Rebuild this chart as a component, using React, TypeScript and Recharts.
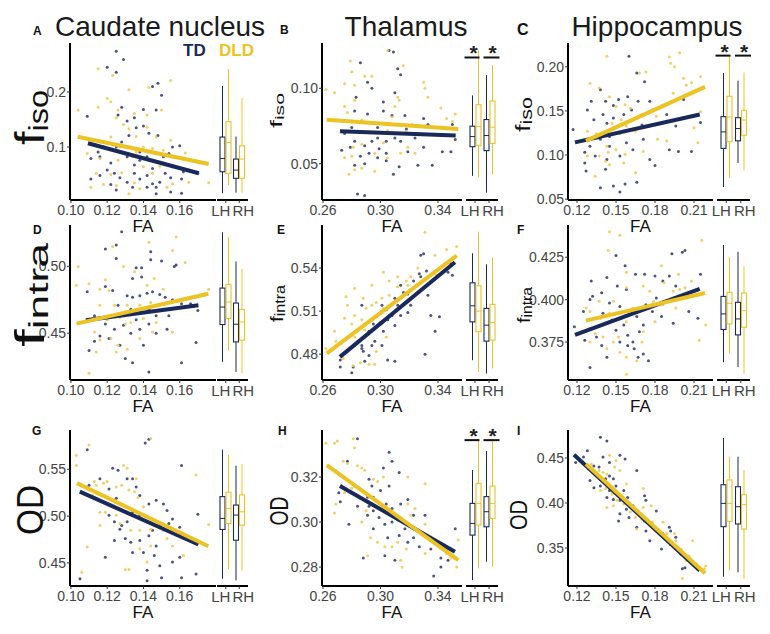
import React from 'react';
import { ScatterChart, Scatter, BarChart, Bar, XAxis, YAxis } from 'recharts';

type Pt = [number, number];

// ---- x ticks (FA) per region
const caudFaTicks = [0.1, 0.12, 0.14, 0.16];
const thalFaTicks = [0.26, 0.3, 0.34];
const hippFaTicks = [0.12, 0.15, 0.18, 0.21];
const sides = ['LH', 'RH'];

// ---- y ticks per panel
const caudIsoTicks = [0.1, 0.2];
const thalIsoTicks = [0.05, 0.1];
const hippIsoTicks = [0.05, 0.1, 0.15, 0.2];
const caudIntraTicks = [0.45, 0.5];
const thalIntraTicks = [0.48, 0.51, 0.54];
const hippIntraTicks = [0.375, 0.4, 0.425];
const caudOdTicks = [0.45, 0.5, 0.55];
const thalOdTicks = [0.28, 0.3, 0.32];
const hippOdTicks = [0.35, 0.4, 0.45];

// ---- scatter points [FA, value]
const caudIsoTD: Pt[] = [[0.125,0.274],[0.129,0.259],[0.125,0.236],[0.120,0.245],[0.109,0.156],[0.145,0.210],[0.148,0.216],[0.150,0.194],[0.140,0.168],[0.147,0.167],[0.126,0.158],[0.128,0.172],[0.131,0.147],[0.136,0.135],[0.135,0.153],[0.132,0.121],[0.140,0.138],[0.143,0.125],[0.148,0.121],[0.156,0.100],[0.160,0.102],[0.154,0.088],[0.151,0.082],[0.162,0.055],[0.161,0.042],[0.170,0.052],[0.111,0.079],[0.116,0.082],[0.122,0.071],[0.120,0.058],[0.124,0.052],[0.116,0.048],[0.127,0.044],[0.131,0.036],[0.135,0.052],[0.138,0.042],[0.142,0.048],[0.145,0.033],[0.147,0.027],[0.149,0.036],[0.152,0.052],[0.155,0.044],[0.142,0.027],[0.134,0.027],[0.122,0.032],[0.125,0.022],[0.138,0.076],[0.142,0.082],[0.145,0.075],[0.138,0.091],[0.125,0.100],[0.128,0.109],[0.118,0.100],[0.115,0.091],[0.111,0.042],[0.147,0.015],[0.155,0.018],[0.161,0.016],[0.135,0.067],[0.145,0.061],[0.156,0.064],[0.131,0.082]];
const caudIsoDLD: Pt[] = [[0.104,0.167],[0.115,0.242],[0.123,0.230],[0.132,0.204],[0.120,0.188],[0.122,0.182],[0.115,0.172],[0.126,0.167],[0.143,0.208],[0.155,0.221],[0.150,0.167],[0.142,0.158],[0.135,0.161],[0.129,0.141],[0.132,0.133],[0.122,0.118],[0.136,0.119],[0.140,0.100],[0.145,0.097],[0.151,0.094],[0.163,0.089],[0.109,0.088],[0.116,0.079],[0.114,0.052],[0.122,0.050],[0.128,0.053],[0.135,0.035],[0.140,0.064],[0.145,0.052],[0.149,0.065],[0.153,0.027],[0.156,0.033],[0.165,0.036],[0.176,0.035],[0.125,0.030],[0.132,0.015],[0.138,0.024],[0.118,0.032],[0.111,0.027],[0.126,0.076],[0.134,0.082],[0.147,0.118],[0.155,0.112],[0.127,0.100],[0.136,0.091],[0.142,0.136],[0.125,0.153]];
const thalIsoTD: Pt[] = [[0.306,0.125],[0.309,0.124],[0.312,0.113],[0.286,0.117],[0.314,0.109],[0.291,0.104],[0.294,0.100],[0.283,0.094],[0.310,0.097],[0.302,0.091],[0.282,0.085],[0.291,0.083],[0.302,0.085],[0.308,0.082],[0.317,0.082],[0.330,0.080],[0.333,0.076],[0.339,0.074],[0.350,0.076],[0.352,0.066],[0.349,0.058],[0.343,0.058],[0.336,0.049],[0.326,0.049],[0.319,0.058],[0.314,0.065],[0.310,0.067],[0.304,0.065],[0.298,0.067],[0.294,0.065],[0.289,0.062],[0.282,0.065],[0.279,0.061],[0.273,0.059],[0.286,0.055],[0.292,0.057],[0.298,0.054],[0.304,0.052],[0.309,0.043],[0.313,0.048],[0.282,0.049],[0.289,0.050],[0.284,0.030],[0.289,0.029],[0.298,0.074],[0.299,0.060],[0.304,0.057],[0.318,0.073],[0.324,0.067],[0.330,0.061],[0.280,0.074],[0.275,0.070]];
const thalIsoDLD: Pt[] = [[0.262,0.099],[0.280,0.111],[0.279,0.118],[0.305,0.125],[0.316,0.115],[0.289,0.108],[0.275,0.103],[0.268,0.097],[0.282,0.102],[0.294,0.108],[0.312,0.094],[0.313,0.092],[0.310,0.088],[0.330,0.104],[0.331,0.100],[0.333,0.094],[0.342,0.087],[0.346,0.080],[0.350,0.078],[0.352,0.083],[0.277,0.084],[0.287,0.079],[0.292,0.071],[0.281,0.061],[0.287,0.063],[0.280,0.055],[0.275,0.054],[0.278,0.043],[0.282,0.046],[0.296,0.057],[0.302,0.064],[0.305,0.054],[0.314,0.057],[0.319,0.061],[0.324,0.057],[0.305,0.072],[0.318,0.071],[0.322,0.076],[0.296,0.045],[0.287,0.047],[0.308,0.081],[0.282,0.092],[0.275,0.088]];
const hippIsoTD: Pt[] = [[0.117,0.129],[0.160,0.212],[0.138,0.174],[0.166,0.193],[0.172,0.183],[0.159,0.166],[0.152,0.163],[0.142,0.161],[0.148,0.156],[0.131,0.161],[0.128,0.151],[0.133,0.140],[0.140,0.146],[0.143,0.136],[0.148,0.142],[0.156,0.146],[0.162,0.151],[0.167,0.161],[0.176,0.161],[0.178,0.151],[0.189,0.146],[0.170,0.134],[0.161,0.129],[0.153,0.125],[0.145,0.121],[0.138,0.118],[0.130,0.110],[0.126,0.103],[0.134,0.099],[0.143,0.095],[0.153,0.099],[0.163,0.106],[0.176,0.095],[0.180,0.088],[0.191,0.106],[0.198,0.104],[0.208,0.104],[0.215,0.137],[0.202,0.163],[0.196,0.133],[0.126,0.091],[0.127,0.082],[0.148,0.065],[0.153,0.058],[0.157,0.067],[0.166,0.069],[0.138,0.063],[0.142,0.084],[0.145,0.110],[0.158,0.114],[0.171,0.118]];
const hippIsoDLD: Pt[] = [[0.143,0.212],[0.173,0.194],[0.168,0.193],[0.191,0.211],[0.192,0.204],[0.199,0.216],[0.195,0.200],[0.202,0.187],[0.204,0.179],[0.208,0.182],[0.215,0.189],[0.215,0.149],[0.210,0.131],[0.213,0.114],[0.130,0.181],[0.137,0.176],[0.145,0.166],[0.150,0.155],[0.157,0.157],[0.161,0.153],[0.170,0.146],[0.181,0.144],[0.194,0.170],[0.185,0.156],[0.128,0.127],[0.135,0.124],[0.147,0.136],[0.154,0.140],[0.158,0.133],[0.165,0.127],[0.143,0.110],[0.150,0.106],[0.157,0.101],[0.137,0.099],[0.142,0.093],[0.145,0.089],[0.156,0.091],[0.165,0.080],[0.128,0.099],[0.182,0.118],[0.189,0.116],[0.171,0.104],[0.134,0.076],[0.144,0.103]];
const caudIntraTD: Pt[] = [[0.125,0.516],[0.128,0.526],[0.119,0.513],[0.125,0.506],[0.144,0.511],[0.136,0.499],[0.139,0.499],[0.134,0.491],[0.139,0.492],[0.144,0.505],[0.150,0.504],[0.158,0.501],[0.157,0.500],[0.119,0.485],[0.123,0.482],[0.131,0.478],[0.134,0.477],[0.138,0.478],[0.142,0.480],[0.145,0.481],[0.149,0.479],[0.152,0.477],[0.156,0.475],[0.161,0.472],[0.166,0.472],[0.170,0.467],[0.126,0.471],[0.133,0.468],[0.143,0.468],[0.147,0.463],[0.154,0.463],[0.109,0.481],[0.113,0.463],[0.119,0.457],[0.124,0.453],[0.129,0.456],[0.133,0.450],[0.138,0.453],[0.143,0.457],[0.147,0.450],[0.153,0.453],[0.121,0.446],[0.127,0.441],[0.130,0.431],[0.134,0.428],[0.143,0.421],[0.161,0.428],[0.169,0.443],[0.110,0.437],[0.113,0.444],[0.116,0.448],[0.140,0.441],[0.136,0.460],[0.125,0.463]];
const caudIntraDLD: Pt[] = [[0.103,0.486],[0.110,0.487],[0.104,0.500],[0.123,0.515],[0.129,0.500],[0.143,0.518],[0.156,0.512],[0.158,0.522],[0.163,0.503],[0.176,0.483],[0.119,0.490],[0.121,0.482],[0.135,0.496],[0.142,0.486],[0.146,0.491],[0.151,0.483],[0.153,0.473],[0.144,0.473],[0.138,0.471],[0.131,0.471],[0.124,0.471],[0.116,0.471],[0.120,0.460],[0.127,0.462],[0.133,0.458],[0.140,0.461],[0.147,0.458],[0.113,0.451],[0.116,0.445],[0.122,0.446],[0.126,0.441],[0.131,0.438],[0.138,0.446],[0.130,0.457],[0.114,0.436],[0.110,0.420],[0.125,0.436],[0.145,0.451],[0.156,0.451],[0.116,0.483]];
const thalIntraTD: Pt[] = [[0.272,0.471],[0.280,0.467],[0.277,0.482],[0.282,0.486],[0.287,0.486],[0.289,0.492],[0.292,0.496],[0.284,0.497],[0.287,0.484],[0.294,0.486],[0.292,0.479],[0.288,0.482],[0.296,0.489],[0.300,0.502],[0.301,0.514],[0.304,0.511],[0.305,0.504],[0.308,0.507],[0.310,0.500],[0.314,0.507],[0.312,0.514],[0.310,0.519],[0.316,0.523],[0.319,0.522],[0.325,0.528],[0.328,0.534],[0.327,0.536],[0.330,0.526],[0.333,0.521],[0.335,0.507],[0.338,0.496],[0.341,0.506],[0.328,0.549],[0.330,0.550],[0.332,0.538],[0.347,0.537],[0.349,0.543],[0.350,0.535],[0.323,0.531],[0.314,0.528],[0.297,0.506],[0.295,0.501],[0.301,0.486],[0.305,0.476],[0.310,0.475],[0.289,0.475],[0.281,0.471],[0.272,0.476],[0.331,0.480],[0.321,0.514],[0.302,0.496],[0.319,0.509],[0.287,0.514]];
const thalIntraDLD: Pt[] = [[0.262,0.484],[0.268,0.496],[0.275,0.505],[0.277,0.514],[0.276,0.520],[0.282,0.526],[0.288,0.519],[0.280,0.501],[0.282,0.507],[0.287,0.504],[0.290,0.512],[0.294,0.514],[0.294,0.528],[0.302,0.537],[0.306,0.531],[0.312,0.534],[0.318,0.531],[0.319,0.528],[0.312,0.527],[0.306,0.521],[0.301,0.519],[0.314,0.519],[0.302,0.512],[0.297,0.516],[0.289,0.497],[0.282,0.492],[0.281,0.472],[0.286,0.474],[0.292,0.473],[0.296,0.473],[0.297,0.482],[0.304,0.492],[0.301,0.501],[0.331,0.565],[0.346,0.553],[0.353,0.555],[0.339,0.535],[0.338,0.549],[0.326,0.540],[0.321,0.534],[0.274,0.477],[0.269,0.489]];
const hippIntraTD: Pt[] = [[0.150,0.426],[0.157,0.420],[0.143,0.413],[0.131,0.411],[0.130,0.400],[0.132,0.402],[0.139,0.404],[0.151,0.408],[0.153,0.396],[0.158,0.406],[0.165,0.415],[0.172,0.415],[0.180,0.414],[0.186,0.411],[0.191,0.414],[0.193,0.427],[0.201,0.428],[0.203,0.429],[0.196,0.408],[0.181,0.401],[0.178,0.393],[0.185,0.390],[0.194,0.386],[0.206,0.393],[0.215,0.415],[0.213,0.389],[0.118,0.384],[0.126,0.376],[0.135,0.378],[0.140,0.392],[0.147,0.388],[0.150,0.382],[0.156,0.385],[0.159,0.379],[0.163,0.375],[0.168,0.381],[0.164,0.371],[0.171,0.368],[0.175,0.364],[0.167,0.366],[0.159,0.373],[0.143,0.366],[0.139,0.373],[0.130,0.360],[0.166,0.390],[0.173,0.397],[0.145,0.398],[0.125,0.393],[0.153,0.375],[0.171,0.385]];
const hippIntraDLD: Pt[] = [[0.145,0.440],[0.153,0.438],[0.144,0.429],[0.158,0.416],[0.158,0.407],[0.148,0.399],[0.137,0.399],[0.127,0.395],[0.130,0.393],[0.138,0.389],[0.145,0.392],[0.134,0.380],[0.140,0.378],[0.148,0.375],[0.152,0.378],[0.158,0.366],[0.158,0.356],[0.166,0.364],[0.170,0.375],[0.171,0.408],[0.176,0.405],[0.179,0.399],[0.185,0.420],[0.187,0.410],[0.194,0.405],[0.198,0.415],[0.199,0.406],[0.203,0.407],[0.208,0.411],[0.216,0.435],[0.219,0.385],[0.214,0.376],[0.196,0.395],[0.186,0.397],[0.180,0.387],[0.171,0.381],[0.163,0.395],[0.158,0.387],[0.130,0.375],[0.143,0.371],[0.153,0.369]];
const caudOdTD: Pt[] = [[0.109,0.571],[0.110,0.533],[0.105,0.433],[0.116,0.540],[0.119,0.456],[0.123,0.551],[0.126,0.549],[0.121,0.529],[0.125,0.519],[0.131,0.540],[0.134,0.540],[0.136,0.531],[0.138,0.522],[0.141,0.578],[0.143,0.582],[0.143,0.513],[0.147,0.517],[0.151,0.513],[0.153,0.506],[0.161,0.554],[0.170,0.502],[0.160,0.488],[0.156,0.497],[0.154,0.492],[0.149,0.490],[0.145,0.485],[0.142,0.494],[0.138,0.501],[0.134,0.504],[0.131,0.494],[0.127,0.486],[0.124,0.494],[0.124,0.474],[0.130,0.476],[0.133,0.472],[0.138,0.474],[0.143,0.479],[0.147,0.468],[0.134,0.461],[0.140,0.461],[0.146,0.458],[0.149,0.447],[0.156,0.451],[0.160,0.456],[0.161,0.434],[0.169,0.438],[0.142,0.442],[0.142,0.431],[0.150,0.434],[0.128,0.490],[0.121,0.501],[0.118,0.515]];
const caudOdDLD: Pt[] = [[0.103,0.565],[0.103,0.554],[0.106,0.440],[0.109,0.467],[0.110,0.576],[0.113,0.537],[0.114,0.533],[0.118,0.535],[0.120,0.537],[0.116,0.504],[0.119,0.504],[0.123,0.510],[0.125,0.531],[0.128,0.533],[0.129,0.554],[0.131,0.551],[0.132,0.528],[0.135,0.526],[0.137,0.520],[0.140,0.510],[0.144,0.583],[0.136,0.540],[0.125,0.501],[0.127,0.492],[0.133,0.485],[0.138,0.485],[0.144,0.486],[0.151,0.485],[0.156,0.468],[0.162,0.458],[0.169,0.544],[0.176,0.491],[0.130,0.443],[0.132,0.443],[0.138,0.465],[0.142,0.451],[0.144,0.468],[0.153,0.476],[0.116,0.490],[0.112,0.522]];
const thalOdTD: Pt[] = [[0.284,0.337],[0.277,0.327],[0.271,0.313],[0.272,0.309],[0.273,0.316],[0.278,0.299],[0.288,0.284],[0.306,0.331],[0.313,0.322],[0.308,0.327],[0.302,0.324],[0.292,0.319],[0.294,0.316],[0.282,0.316],[0.287,0.314],[0.291,0.311],[0.295,0.311],[0.300,0.314],[0.306,0.316],[0.304,0.308],[0.308,0.306],[0.314,0.308],[0.319,0.310],[0.323,0.303],[0.331,0.303],[0.330,0.294],[0.295,0.305],[0.299,0.302],[0.303,0.299],[0.308,0.300],[0.312,0.301],[0.317,0.297],[0.295,0.297],[0.291,0.303],[0.284,0.307],[0.305,0.293],[0.313,0.294],[0.323,0.293],[0.327,0.289],[0.335,0.288],[0.342,0.284],[0.347,0.283],[0.352,0.297],[0.342,0.280],[0.337,0.276],[0.310,0.283],[0.303,0.285],[0.319,0.291],[0.292,0.307]];
const thalOdDLD: Pt[] = [[0.262,0.335],[0.268,0.335],[0.270,0.336],[0.281,0.337],[0.282,0.333],[0.274,0.327],[0.277,0.326],[0.284,0.325],[0.287,0.324],[0.289,0.323],[0.269,0.308],[0.268,0.304],[0.275,0.313],[0.280,0.315],[0.295,0.319],[0.298,0.318],[0.302,0.320],[0.319,0.320],[0.331,0.317],[0.290,0.305],[0.287,0.300],[0.291,0.285],[0.298,0.291],[0.303,0.289],[0.308,0.289],[0.314,0.283],[0.315,0.280],[0.319,0.308],[0.324,0.306],[0.321,0.303],[0.331,0.299],[0.331,0.286],[0.342,0.289],[0.346,0.286],[0.353,0.280],[0.354,0.292],[0.349,0.284],[0.312,0.291],[0.318,0.288],[0.293,0.293]];
const hippOdTD: Pt[] = [[0.128,0.458],[0.138,0.473],[0.143,0.469],[0.133,0.441],[0.137,0.440],[0.140,0.451],[0.145,0.445],[0.153,0.453],[0.157,0.449],[0.130,0.425],[0.133,0.417],[0.138,0.419],[0.142,0.427],[0.145,0.430],[0.148,0.427],[0.150,0.419],[0.145,0.414],[0.143,0.406],[0.148,0.404],[0.153,0.403],[0.156,0.414],[0.159,0.406],[0.166,0.436],[0.172,0.408],[0.173,0.403],[0.163,0.397],[0.158,0.393],[0.153,0.388],[0.160,0.384],[0.167,0.388],[0.172,0.380],[0.166,0.373],[0.173,0.369],[0.178,0.373],[0.181,0.371],[0.186,0.366],[0.176,0.358],[0.185,0.349],[0.191,0.373],[0.192,0.369],[0.196,0.362],[0.200,0.343],[0.201,0.327],[0.203,0.328],[0.192,0.354],[0.125,0.451],[0.119,0.445],[0.129,0.438],[0.152,0.380],[0.181,0.391]];
const hippOdDLD: Pt[] = [[0.131,0.443],[0.137,0.436],[0.140,0.434],[0.143,0.432],[0.145,0.453],[0.150,0.447],[0.149,0.440],[0.153,0.436],[0.142,0.416],[0.138,0.414],[0.147,0.410],[0.151,0.403],[0.154,0.408],[0.158,0.421],[0.143,0.395],[0.148,0.397],[0.156,0.399],[0.161,0.390],[0.165,0.384],[0.170,0.382],[0.171,0.416],[0.171,0.395],[0.177,0.397],[0.178,0.379],[0.182,0.371],[0.186,0.379],[0.189,0.366],[0.191,0.356],[0.194,0.353],[0.196,0.358],[0.195,0.366],[0.200,0.349],[0.204,0.336],[0.209,0.358],[0.212,0.332],[0.214,0.329],[0.218,0.327],[0.219,0.330],[0.201,0.316],[0.206,0.341],[0.166,0.371]];

// ---- regression line end points [FA, value]
const caudIsoFitTD: Pt[] = [[0.1094,0.1067],[0.1705,0.0522]];
const caudIsoFitDLD: Pt[] = [[0.1037,0.1187],[0.176,0.069]];
const thalIsoFitTD: Pt[] = [[0.2718,0.0715],[0.3523,0.0687]];
const thalIsoFitDLD: Pt[] = [[0.2626,0.0791],[0.3541,0.0731]];
const hippIsoFitTD: Pt[] = [[0.1185,0.1143],[0.2144,0.146]];
const hippIsoFitDLD: Pt[] = [[0.1269,0.116],[0.2185,0.1772]];
const caudIntraFitTD: Pt[] = [[0.1082,0.4597],[0.1703,0.4709]];
const caudIntraFitDLD: Pt[] = [[0.1031,0.4572],[0.1758,0.4796]];
const thalIntraFitTD: Pt[] = [[0.2718,0.4781],[0.3518,0.544]];
const thalIntraFitDLD: Pt[] = [[0.2626,0.4805],[0.353,0.5486]];
const hippIntraFitTD: Pt[] = [[0.1185,0.3792],[0.2144,0.4063]];
const hippIntraFitDLD: Pt[] = [[0.1269,0.3876],[0.2185,0.4039]];
const caudOdFitTD: Pt[] = [[0.1049,0.5261],[0.1703,0.4696]];
const caudOdFitDLD: Pt[] = [[0.1033,0.5352],[0.1758,0.4677]];
const thalOdFitTD: Pt[] = [[0.2718,0.316],[0.3518,0.2868]];
const thalOdFitDLD: Pt[] = [[0.2626,0.3253],[0.3541,0.2831]];
const hippOdFitTD: Pt[] = [[0.1177,0.4537],[0.2144,0.325]];
const hippOdFitDLD: Pt[] = [[0.1269,0.4433],[0.2185,0.3219]];

// ---- box stats [min, q1, median, q3, max] for LH, RH
const caudIsoBoxTD = [[0.016,0.055,0.079,0.118,0.211],[0.017,0.043,0.058,0.078,0.119]];
const caudIsoBoxDLD = [[0.031,0.052,0.108,0.146,0.242],[0.017,0.043,0.078,0.102,0.189]];
const thalIsoBoxTD = [[0.042,0.0613,0.068,0.0749,0.0953],[0.0309,0.0587,0.0687,0.0793,0.1087]];
const thalIsoBoxDLD = [[0.0409,0.062,0.0747,0.0891,0.1253],[0.0431,0.0635,0.0742,0.0916,0.1153]];
const hippIsoBoxTD = [[0.0637,0.1075,0.1262,0.1435,0.1929],[0.091,0.1161,0.13,0.1423,0.1843]];
const hippIsoBoxDLD = [[0.0738,0.1149,0.1431,0.1666,0.2135],[0.0824,0.1225,0.1397,0.1506,0.1936]];
const caudIntraBoxTD = [[0.4286,0.4565,0.4696,0.4838,0.5256],[0.4211,0.4435,0.4567,0.4726,0.5037]];
const caudIntraBoxDLD = [[0.4373,0.461,0.4734,0.4866,0.5219],[0.4199,0.4448,0.4584,0.4677,0.4983]];
const thalIntraBoxTD = [[0.4758,0.5025,0.5137,0.5297,0.5503],[0.4665,0.4891,0.5002,0.5119,0.5426]];
const thalIntraBoxDLD = [[0.4676,0.4956,0.51,0.5277,0.5653],[0.47,0.4898,0.5021,0.5147,0.5472]];
const hippIntraBoxTD = [[0.3631,0.3824,0.3916,0.4019,0.4322],[0.3602,0.3792,0.3886,0.3984,0.4282]];
const hippIntraBoxDLD = [[0.368,0.3857,0.3978,0.4043,0.4249],[0.3563,0.3837,0.3935,0.4039,0.4196]];
const caudOdBoxTD = [[0.433,0.4857,0.4975,0.5208,0.571],[0.4312,0.4742,0.5011,0.5118,0.5538]];
const caudOdBoxDLD = [[0.443,0.4921,0.5083,0.5255,0.5656],[0.4419,0.4903,0.5046,0.5226,0.5556]];
const thalOdBoxTD = [[0.2742,0.2942,0.2994,0.3083,0.3231],[0.2824,0.2979,0.3046,0.3113,0.3316]];
const thalOdBoxDLD = [[0.2794,0.2987,0.3083,0.3172,0.336],[0.2801,0.3016,0.3083,0.316,0.336]];
const hippOdBoxTD = [[0.3181,0.3737,0.3996,0.4203,0.4722],[0.323,0.3767,0.3959,0.4181,0.4515]];
const hippOdBoxDLD = [[0.3248,0.3796,0.3996,0.4256,0.4515],[0.3156,0.3711,0.3981,0.4092,0.4367]];

// significance bar heights (LH, RH)
const thalIsoSig = [0.1204, 0.1204];
const hippIsoSig = [0.2127, 0.2127];
const thalOdSig = [0.3364, 0.3364];

const FONT = '"Liberation Sans", Arial, Helvetica, sans-serif';
const TD = '#18295a';
const DLD = '#ecc322';
const TD_PT = '#2a3767';
const DLD_PT = '#ebc94e';
const TICK = '#444';
const YW = 50;
const XH = 30;
const BOX_PAD = 14; // room left/right of the box chart so LH/RH labels are not clipped
const BOX_TOP = 14; // room above the box chart for the significance stars

const COLS = [
  { axisX: 70, right: 216, boxL: 217, boxR: 248, xDomain: [0.0995, 0.18], xTicks: caudFaTicks, title: 'Caudate nucleus', titleX: 160 },
  { axisX: 322, right: 462, boxL: 466, boxR: 498, xDomain: [0.2593, 0.3567], xTicks: thalFaTicks, title: 'Thalamus', titleX: 406 },
  { axisX: 568, right: 713, boxL: 717, boxR: 750, xDomain: [0.1131, 0.2246], xTicks: hippFaTicks, title: 'Hippocampus', titleX: 657 },
];
const ROWS = [
  { top: 43, bottom: 200 },
  { top: 225, bottom: 380 },
  { top: 430, bottom: 586 },
];

const panels = [
  { letter: 'A', lx: 33, ly: 35, lsize: 12, row: 0, col: 0, td: caudIsoTD, dld: caudIsoDLD, fitTD: caudIsoFitTD, fitDLD: caudIsoFitDLD, boxTD: caudIsoBoxTD, boxDLD: caudIsoBoxDLD, sig: null, yDomain: [0.0036, 0.289], yTicks: caudIsoTicks, digits: 1, yl: { main: 'f', sub: 'iso', x: 44, cy: 117.5, size: 40, subSize: 27, len: 55, dy: 4 } },
  { letter: 'B', lx: 280, ly: 34, lsize: 12, row: 0, col: 1, td: thalIsoTD, dld: thalIsoDLD, fitTD: thalIsoFitTD, fitDLD: thalIsoFitDLD, boxTD: thalIsoBoxTD, boxDLD: thalIsoBoxDLD, sig: thalIsoSig, yDomain: [0.026, 0.13], yTicks: thalIsoTicks, digits: 2, yl: { main: 'f', sub: 'iso', x: 282, cy: 110.5, size: 16, subSize: 12, len: 35, dy: 2 } },
  { letter: 'C', lx: 517, ly: 35, lsize: 16, row: 0, col: 2, td: hippIsoTD, dld: hippIsoDLD, fitTD: hippIsoFitTD, fitDLD: hippIsoFitDLD, boxTD: hippIsoBoxTD, boxDLD: hippIsoBoxDLD, sig: hippIsoSig, yDomain: [0.049, 0.227], yTicks: hippIsoTicks, digits: 2, yl: { main: 'f', sub: 'iso', x: 530, cy: 114.5, size: 20, subSize: 16, len: 35, dy: 2 } },
  { letter: 'D', lx: 33, ly: 234, lsize: 12, row: 1, col: 0, td: caudIntraTD, dld: caudIntraDLD, fitTD: caudIntraFitTD, fitDLD: caudIntraFitDLD, boxTD: caudIntraBoxTD, boxDLD: caudIntraBoxDLD, sig: null, yDomain: [0.415, 0.531], yTicks: caudIntraTicks, digits: 2, yl: { main: 'f', sub: 'intra', x: 44, cy: 295, size: 40, subSize: 28, len: 104, dy: 4 } },
  { letter: 'E', lx: 277, ly: 234, lsize: 12, row: 1, col: 1, td: thalIntraTD, dld: thalIntraDLD, fitTD: thalIntraFitTD, fitDLD: thalIntraFitDLD, boxTD: thalIntraBoxTD, boxDLD: thalIntraBoxDLD, sig: null, yDomain: [0.462, 0.57], yTicks: thalIntraTicks, digits: 2, yl: { main: 'f', sub: 'intra', x: 283, cy: 303.5, size: 18, subSize: 14, len: 37, dy: 2 } },
  { letter: 'F', lx: 517, ly: 234, lsize: 12, row: 1, col: 2, td: hippIntraTD, dld: hippIntraDLD, fitTD: hippIntraFitTD, fitDLD: hippIntraFitDLD, boxTD: hippIntraBoxTD, boxDLD: hippIntraBoxDLD, sig: null, yDomain: [0.3526, 0.444], yTicks: hippIntraTicks, digits: 3, yl: { main: 'f', sub: 'intra', x: 530, cy: 305, size: 18, subSize: 14, len: 36, dy: 2 } },
  { letter: 'G', lx: 32, ly: 435, lsize: 12, row: 2, col: 0, td: caudOdTD, dld: caudOdDLD, fitTD: caudOdFitTD, fitDLD: caudOdFitDLD, boxTD: caudOdBoxTD, boxDLD: caudOdBoxDLD, sig: null, yDomain: [0.4253, 0.592], yTicks: caudOdTicks, digits: 2, yl: { main: 'OD', sub: '', x: 43, cy: 510, size: 37, subSize: 0, len: 50, dy: 0 } },
  { letter: 'H', lx: 278, ly: 435, lsize: 12, row: 2, col: 1, td: thalOdTD, dld: thalOdDLD, fitTD: thalOdFitTD, fitDLD: thalOdFitDLD, boxTD: thalOdBoxTD, boxDLD: thalOdBoxDLD, sig: thalOdSig, yDomain: [0.2716, 0.3409], yTicks: thalOdTicks, digits: 2, yl: { main: 'OD', sub: '', x: 288, cy: 511, size: 25, subSize: 0, len: 29, dy: 0 } },
  { letter: 'I', lx: 517, ly: 435, lsize: 12, row: 2, col: 2, td: hippOdTD, dld: hippOdDLD, fitTD: hippOdFitTD, fitDLD: hippOdFitDLD, boxTD: hippOdBoxTD, boxDLD: hippOdBoxDLD, sig: null, yDomain: [0.3078, 0.4811], yTicks: hippOdTicks, digits: 2, yl: { main: 'OD', sub: '', x: 527, cy: 515, size: 24, subSize: 0, len: 30, dy: 0 } },
];

const toXY = (pts: Pt[]) => pts.map(([x, y]) => ({ x, y }));

const dot = (color: string) => (props: any) =>
  props.cx == null ? <g /> : <circle cx={props.cx} cy={props.cy} r={1.5} fill={color} fillOpacity={0.85} />;
const noShape = () => <g />;

const boxShape = (key: string, color: string, drawSig: boolean) => (props: any) => {
  const { x, y, width, height, payload } = props;
  const s = payload[key];
  const top = Math.min(y, y + height);
  const h = Math.abs(height);
  const py = (v: number) => top + ((s[4] - v) / (s[4] - s[0])) * h;
  const cx = x + width / 2;
  let sigEl = null;
  if (drawSig && payload.sig != null) {
    const c = cx - (width + 1) / 2;
    const ly = py(payload.sig);
    const left = payload.side === 'LH';
    const x1 = left ? c - 11 : c - 6;
    const x2 = left ? c + 4 : c + 10;
    const sx = left ? c - 2 : c + 3;
    sigEl = (
      <g>
        <line x1={x1} x2={x2} y1={ly} y2={ly} stroke="#111" strokeWidth={2} />
        <text x={sx} y={ly + 3} textAnchor="middle" fontSize={21} fontWeight="bold" fill="#222" fontFamily={FONT}>*</text>
      </g>
    );
  }
  return (
    <g>
      <line x1={cx} x2={cx} y1={py(s[4])} y2={py(s[3])} stroke={color} strokeWidth={1} />
      <line x1={cx} x2={cx} y1={py(s[1])} y2={py(s[0])} stroke={color} strokeWidth={1} />
      <rect x={x} y={py(s[3])} width={width} height={py(s[1]) - py(s[3])} fill="#fff" stroke={color} strokeWidth={1.1} />
      <line x1={x} x2={x + width} y1={py(s[2])} y2={py(s[2])} stroke={color} strokeWidth={1} />
      {sigEl}
    </g>
  );
};

const SideTick = (props: any) => {
  const { x, y, payload } = props;
  const dx = payload.value === 'LH' ? -5 : 4;
  return (
    <text x={x + dx} y={y} dy="0.71em" textAnchor="middle" fontSize={15} fill={TICK} fontFamily={FONT}>
      {payload.value}
    </text>
  );
};

function Panel({ p }: { p: any }) {
  const col = COLS[p.col];
  const row = ROWS[p.row];
  const plotW = col.right - col.axisX;
  const plotH = row.bottom - row.top;
  const rows = sides.map((side, i) => ({
    side,
    td: [p.boxTD[i][0], p.boxTD[i][4]],
    dld: [p.boxDLD[i][0], p.boxDLD[i][4]],
    tdStats: p.boxTD[i],
    dldStats: p.boxDLD[i],
    sig: p.sig ? p.sig[i] : null,
  }));
  const tickStyle = { fill: TICK, fontSize: 14, fontFamily: FONT };
  return (
    <>
      <div style={{ position: 'absolute', left: col.axisX - YW, top: row.top }}>
        <ScatterChart width={YW + plotW} height={plotH + XH} margin={{ top: 0, right: 0, bottom: 0, left: 0 }}>
          <XAxis
            type="number" dataKey="x" domain={col.xDomain} ticks={col.xTicks} allowDataOverflow interval={0}
            tickFormatter={(v: number) => v.toFixed(2)} height={XH}
            axisLine={{ stroke: '#000', strokeWidth: 2 }} tickLine={{ stroke: '#333' }} tickSize={3} tickMargin={2} tick={tickStyle}
          />
          <YAxis
            type="number" dataKey="y" domain={p.yDomain} ticks={p.yTicks} allowDataOverflow interval={0}
            tickFormatter={(v: number) => v.toFixed(p.digits)} width={YW}
            axisLine={{ stroke: '#000', strokeWidth: 2 }} tickLine={{ stroke: '#333' }} tickSize={3} tickMargin={1} tick={tickStyle}
          />
          <Scatter data={toXY(p.td)} shape={dot(TD_PT)} isAnimationActive={false} />
          <Scatter data={toXY(p.dld)} shape={dot(DLD_PT)} isAnimationActive={false} />
          <Scatter data={toXY(p.fitTD)} shape={noShape} line={{ stroke: TD, strokeWidth: 4 }} isAnimationActive={false} />
          <Scatter data={toXY(p.fitDLD)} shape={noShape} line={{ stroke: DLD, strokeWidth: 4 }} isAnimationActive={false} />
        </ScatterChart>
      </div>
      <div style={{ position: 'absolute', left: col.boxL - BOX_PAD, top: row.top - BOX_TOP }}>
        <BarChart
          width={col.boxR - col.boxL + 2 * BOX_PAD} height={plotH + XH + BOX_TOP} data={rows}
          margin={{ top: BOX_TOP, right: BOX_PAD, bottom: 0, left: BOX_PAD }} barGap={1} barSize={5}
        >
          <XAxis
            dataKey="side" padding={{ left: 2, right: 2 }} interval={0} height={XH}
            axisLine={{ stroke: '#000', strokeWidth: 2 }} tickLine={{ stroke: '#333' }} tickSize={3} tickMargin={2} tick={<SideTick />}
          />
          <YAxis hide type="number" domain={p.yDomain} />
          <Bar dataKey="td" shape={boxShape('tdStats', TD, false)} isAnimationActive={false} />
          <Bar dataKey="dld" shape={boxShape('dldStats', DLD, true)} isAnimationActive={false} />
        </BarChart>
      </div>
    </>
  );
}

function YLabel({ yl }: { yl: any }) {
  return (
    <text
      transform={`translate(${yl.x},${yl.cy}) rotate(-90)`} textAnchor="middle" fontSize={yl.size}
      fill="#111" fontFamily={FONT} textLength={yl.len} lengthAdjust="spacingAndGlyphs"
    >
      <tspan>{yl.main}</tspan>
      {yl.sub ? <tspan fontSize={yl.subSize} dy={yl.dy}>{yl.sub}</tspan> : null}
    </text>
  );
}

export default function App() {
  return (
    <div style={{ position: 'absolute', left: 0, top: 0, width: 770, height: 634, background: '#fff', overflow: 'hidden' }}>
      {panels.map((p) => <Panel key={p.letter} p={p} />)}
      <svg width={770} height={634} style={{ position: 'absolute', left: 0, top: 0, pointerEvents: 'none' }}>
        {COLS.map((c) => (
          <text key={c.title} x={c.titleX} y={36} textAnchor="middle" fontSize={28} fill="#1a1a1a" fontFamily={FONT}>{c.title}</text>
        ))}
        {panels.map((p) => {
          const col = COLS[p.col];
          const row = ROWS[p.row];
          return (
            <g key={'t' + p.letter}>
              <text x={p.lx} y={p.ly} fontSize={p.lsize} fontWeight="bold" fill="#111" fontFamily={FONT}>{p.letter}</text>
              <YLabel yl={p.yl} />
              <text x={(col.axisX + col.right) / 2} y={row.bottom + 32} textAnchor="middle" fontSize={17} fill="#111" fontFamily={FONT}>FA</text>
            </g>
          );
        })}
        <text x={183} y={56} fontSize={17} fontWeight="bold" fill={TD} fontFamily={FONT}>TD</text>
        <text x={219} y={56} fontSize={17} fontWeight="bold" fill={DLD} fontFamily={FONT}>DLD</text>
      </svg>
    </div>
  );
}
